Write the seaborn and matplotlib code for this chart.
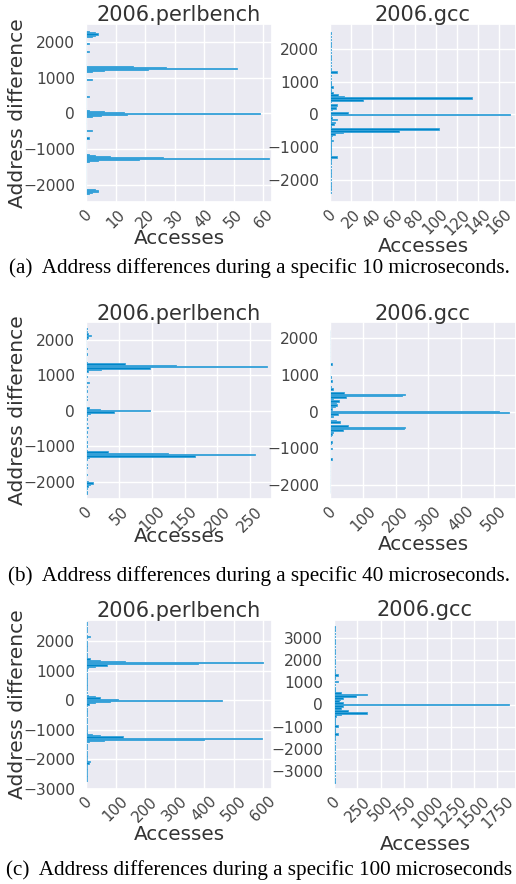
import numpy as np
import pandas as pd
import matplotlib
matplotlib.use("Agg")
import matplotlib.pyplot as plt
import seaborn as sns

sns.set_theme(style="darkgrid")
plt.rcParams["font.family"] = ["DejaVu Sans"]

# ---------------- data (address difference bins -> access counts) ----------------
# (a) 10 microseconds
a_perl_addr = [2280, 2250, 2220, 2190, 2160, 1950, 1740,
               1320, 1290, 1260, 1230, 1200, 1170, 960, 480,
               90, 60, 30, 0, -30, -60, -90, -480, -690,
               -1140, -1170, -1200, -1230, -1260, -1290, -1320, -1350,
               -2130, -2160, -2190, -2220, -2250]
a_perl_cnt = [1, 3, 4, 3, 2, 1, 1,
              16, 27, 51, 21, 6, 2, 2, 1,
              1, 6, 13, 59, 14, 5, 2, 2, 1,
              1, 3, 8, 26, 62, 18, 4, 1,
              3, 4, 4, 2, 1]
a_perl_bw = 30

a_gcc_addr = [1300, 850, 650, 600, 550, 500, 450, 300, 200, 150, 50, 0,
              -100, -150, -250, -300, -450, -500, -550, -600, -650, -800, -1300]
a_gcc_cnt = [7, 3, 3, 8, 13, 134, 31, 7, 6, 2, 17, 170,
             2, 7, 5, 4, 103, 65, 12, 5, 2, 3, 7]
a_gcc_tail = [2500, 2400, 2300, 2200, 2100, 2000, 1900, 1800, 1700, 1600, 1500,
              1400, 1200, 1100, 1000, 950, 900, 750, 700, 400, 250, -50, -200,
              -350, -400, -700, -750, -850, -900, -950, -1000, -1050, -1100,
              -1150, -1200, -1250, -1350, -1400, -1500, -1600, -1700, -1800,
              -1900, -2000, -2100, -2200, -2300, -2400]
a_gcc_bw = 50

# (b) 40 microseconds
b_perl_addr = [2160, 2120, 2080, 1320, 1280, 1240, 1200, 1160, 1120, 1360, 800,
               80, 40, 0, -40, -80, -120, -480,
               -1120, -1160, -1200, -1240, -1280, -1320, -1360,
               -2000, -2040, -2080, -2120, -2200, -2280]
b_perl_cnt = [3, 7, 3, 60, 137, 276, 97, 23, 3, 1, 4,
              5, 22, 97, 42, 6, 2, 3,
              2, 34, 125, 257, 166, 5, 1,
              3, 10, 6, 3, 2, 1]
b_perl_tail = [2320, 2240, 2040, 1760, 1600, 960, 680, 560, 400, 320, -240,
               -360, -600, -720, -880, -1000, -1520, -1600, -1800, -2320]
b_perl_bw = 40

b_gcc_addr = [1296, 936, 828, 684, 612, 504, 468, 432, 396, 360, 288, 252, 180,
              144, 72, 0, -36, -72, -144, -252, -288, -396, -432, -468, -504,
              -576, -612, -648, -828, -864, -1008, -1296]
b_gcc_cnt = [6, 3, 7, 4, 8, 43, 229, 218, 50, 10, 28, 19, 22,
             15, 5, 514, 547, 25, 10, 17, 30, 56, 229, 226, 39,
             10, 7, 3, 7, 2, 5, 6]
b_gcc_tail = [2196, 2088, 1980, 1872, 1764, 1656, 1548, 1440, 1368, 1188, 1080,
              1008, 756, -720, -756, -936, -1080, -1152, -1224, -1368, -1440,
              -1548, -1656, -1764, -1872, -1980, -2088, -2196]
b_gcc_bw = 36

# (c) 100 microseconds
c_perl_addr = [2200, 2160, 2120, 1440, 1400, 1360, 1320, 1280, 1240, 1200, 1160,
               1120, 1080, 160, 120, 80, 40, 0, -40, -80, -120, -160,
               -1120, -1160, -1200, -1240, -1280, -1320, -1360, -1400,
               -2040, -2080, -2120, -2160]
c_perl_cnt = [5, 14, 5, 3, 15, 48, 133, 601, 379, 70, 30,
              8, 2, 8, 30, 48, 110, 459, 82, 30, 10, 3,
              5, 20, 48, 127, 596, 401, 60, 10,
              5, 14, 10, 4]
c_perl_tail = [2640, 2560, 2480, 2400, 2320, 2000, 1920, 1840, 1760, 1680, 1600,
               1520, 1000, 920, 840, 760, 680, 600, 520, 440, 360, 280, -280,
               -360, -440, -520, -600, -680, -760, -840, -920, -1000, -1080,
               -1480, -1560, -1640, -1720, -1800, -1880, -1960, -2240, -2320,
               -2400, -2480, -2560, -2640, -2720]
c_perl_bw = 40

c_gcc_addr = [1350, 1275, 1050, 525, 450, 375, 300, 225, 150, 75, 0, -75, -150,
              -225, -300, -375, -450, -525, -975, -1275, -1350]
c_gcc_cnt = [40, 15, 40, 70, 350, 240, 100, 60, 50, 95, 1879, 100, 70,
             60, 150, 350, 70, 20, 40, 15, 40]
c_gcc_tail = [3525, 3375, 3225, 3075, 2925, 2775, 2625, 2475, 2325, 2175, 2025,
              1875, 1725, 1575, 1425, 1200, 900, 750, 675, 600, -600, -675,
              -750, -825, -900, -1125, -1200, -1425, -1575, -1725, -1875,
              -2025, -2175, -2325, -2475, -2625, -2775, -2925, -3075, -3225,
              -3375, -3525]
c_gcc_bw = 75

titles = ["2006.perlbench", "2006.gcc"]
captions = ["(a)  Address differences during a specific 10 microseconds.",
            "(b)  Address differences during a specific 40 microseconds.",
            "(c)  Address differences during a specific 100 microseconds"]

BLUE = "#0086c8"
EDGE = "#3aa3da"
W, H = 516, 884

panels = [
    # addr, cnt, tail, tail count, bw, rect(px), xlim, xticks, ylim, yticks, left, title_y, xlabel_y
    (a_perl_addr, a_perl_cnt, [], 1, a_perl_bw, (86, 24, 272, 202), (0, 63),
     [0, 10, 20, 30, 40, 50, 60], (-2480, 2500), [-2000, -1000, 0, 1000, 2000], True, 15, 238),
    (a_gcc_addr, a_gcc_cnt, a_gcc_tail, 1, a_gcc_bw, (330, 24, 516, 202), (0, 176),
     [0, 20, 40, 60, 80, 100, 120, 140, 160], (-2690, 2780), [-2000, -1000, 0, 1000, 2000], False, 15, 246),
    (b_perl_addr, b_perl_cnt, b_perl_tail, 1, b_perl_bw, (86, 322, 272, 499), (0, 283),
     [0, 50, 100, 150, 200, 250], (-2490, 2500), [-2000, -1000, 0, 1000, 2000], True, 314, 537),
    (b_gcc_addr, b_gcc_cnt, b_gcc_tail, 1, b_gcc_bw, (330, 322, 516, 499), (0, 567),
     [0, 100, 200, 300, 400, 500], (-2380, 2435), [-2000, -1000, 0, 1000, 2000], False, 314, 544),
    (c_perl_addr, c_perl_cnt, c_perl_tail, 2, c_perl_bw, (86, 620, 272, 789), (0, 630),
     [0, 100, 200, 300, 400, 500, 600], (-3000, 2720), [-3000, -2000, -1000, 0, 1000, 2000], True, 611, 834),
    (c_gcc_addr, c_gcc_cnt, c_gcc_tail, 8, c_gcc_bw, (334, 620, 516, 789), (0, 1950),
     [0, 250, 500, 750, 1000, 1250, 1500, 1750], (-3830, 3830),
     [-3000, -2000, -1000, 0, 1000, 2000, 3000], False, 610, 844),
]

fig = plt.figure(figsize=(W / 100, H / 100), dpi=100)

for i, (addr, cnt, tail, tcnt, bw, rect, xlim, xticks, ylim, yticks, left, ty, xly) in enumerate(panels):
    l, t, r, b = rect
    ax = fig.add_axes([l / W, 1 - b / H, (r - l) / W, (b - t) / H])
    df = pd.DataFrame({"addr": list(addr) + list(tail),
                       "cnt": list(cnt) + [tcnt] * len(tail)})
    lo, hi = df["addr"].min() - bw / 2, df["addr"].max() + bw / 2
    sns.histplot(data=df, y="addr", weights="cnt", binwidth=bw, binrange=(lo, hi),
                 color=BLUE, alpha=1, edgecolor=EDGE, linewidth=0.6, ax=ax)
    ax.set_xlim(*xlim)
    ax.set_ylim(*ylim)
    ax.set_xticks(xticks)
    ax.set_yticks(yticks)
    ax.set_xticklabels([str(v) for v in xticks], rotation=45, ha="center",
                       fontsize=10.8, color="#444444")
    ax.set_yticklabels([("\u2212" + str(-v)) if v < 0 else str(v) for v in yticks],
                       fontsize=11.2, color="#444444")
    ax.tick_params(axis="y", pad=2)
    ax.tick_params(axis="x", pad=-2.5)
    h = b - t
    wdt = r - l
    ax.set_title("")
    ax.text(0.5, (b - ty) / h, titles[i % 2], transform=ax.transAxes,
            ha="center", va="center", fontsize=15, color="#333333")
    ax.set_xlabel("Accesses", fontsize=14.4, color="#333333")
    ax.xaxis.set_label_coords(0.5, (b - xly) / h)
    ax.xaxis.label.set_va("center")
    if left:
        ax.set_ylabel("Address difference", fontsize=14.6, color="#333333")
        ax.yaxis.set_label_coords((17 - l) / wdt, 0.5)
        ax.yaxis.label.set_va("center")
    else:
        ax.set_ylabel("")

cap_y = [268, 576, 870]
for cy, txt in zip(cap_y, captions):
    fig.text(259 / W, 1 - cy / H, txt, ha="center", va="center",
             fontsize=15.2, family="Liberation Serif", color="black")

fig.savefig("out.png", dpi=100)
